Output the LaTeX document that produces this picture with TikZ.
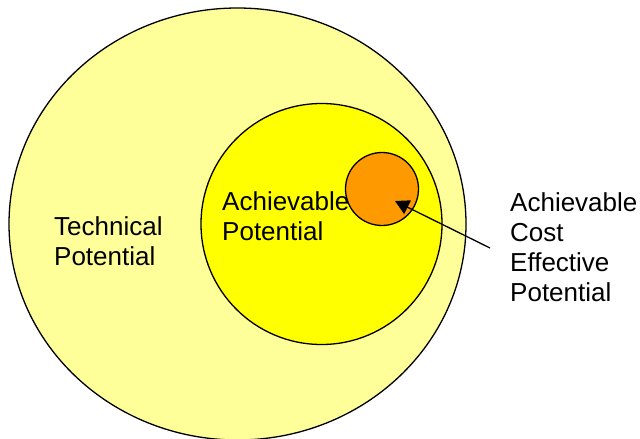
\documentclass[tikz,border=0pt]{standalone}
\usepackage{fontspec}
\setmainfont{Liberation Sans}
\usetikzlibrary{shapes.geometric,arrows.meta}

\definecolor{paleyellow}{RGB}{255,255,153}
\definecolor{brightyellow}{RGB}{255,255,0}
\definecolor{potorange}{RGB}{255,153,0}

\tikzset{
    ring/.style={ellipse, draw=black, line width=1.3pt, inner sep=0pt},
    txt/.style={anchor=base west, align=left, inner sep=0pt,
        font=\fontsize{26}{30}\selectfont},
    pointer/.style={-{Triangle[length=14pt,width=15pt]}, line width=1.3pt}
}

\begin{document}
\begin{tikzpicture}[x=1pt,y=-1pt]

    \useasboundingbox (0,0) rectangle (640,439);

    % Nested potentials, largest first
    \node[ring, fill=paleyellow, minimum width=457pt, minimum height=432pt] (technical) at (237.5,224) {};
    \node[ring, fill=brightyellow, minimum size=241pt] (achievable) at (321.5,224) {};
    \node[ring, fill=potorange, minimum size=73pt] (costeff) at (382,189) {};

    % Labels (placed at the baseline of their last line)
    \node[txt] (techtext) at (54,265) {Technical\\Potential};
    \node[txt] (achtext) at (222,240) {Achievable\\Potential};
    \node[txt] (cetext) at (510,301) {Achievable\\Cost\\Effective\\Potential};

    % Arrow pointing into the small circle
    \coordinate (arrowtail) at (490,248);
    \coordinate (arrowtip) at (395,201);
    \draw[pointer] (arrowtail) -- (arrowtip);

\end{tikzpicture}
\end{document}
